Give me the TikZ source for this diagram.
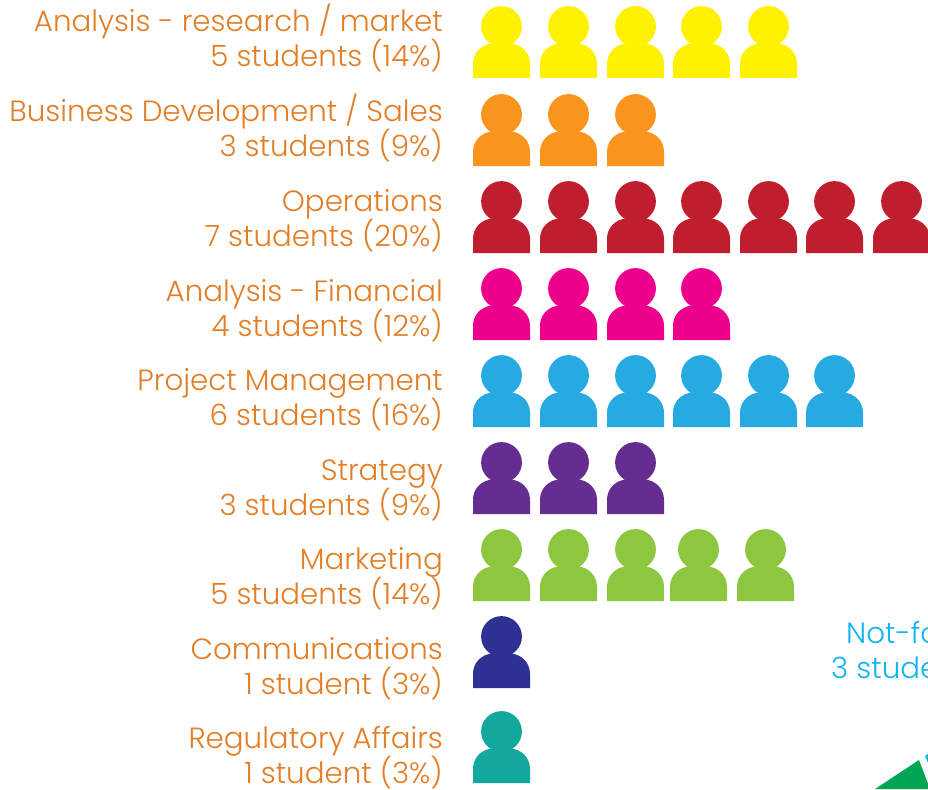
\documentclass[tikz,border=0pt]{standalone}
\usepackage{fontspec}
\setmainfont[UprightFont=* Light]{Poppins}
\definecolor{labelorange}{HTML}{E37E26}
\definecolor{notblue}{HTML}{12B4EE}
\definecolor{cyellow}{HTML}{FFF200}
\definecolor{corange}{HTML}{F9951D}
\definecolor{cred}{HTML}{BE1E2D}
\definecolor{cpink}{HTML}{EC008C}
\definecolor{cblue}{HTML}{27AAE1}
\definecolor{cpurple}{HTML}{662D91}
\definecolor{cgreen}{HTML}{8DC63F}
\definecolor{cnavy}{HTML}{2E3192}
\definecolor{cteal}{HTML}{12A89D}
\definecolor{wedgegreen}{HTML}{00A651}
\tikzset{
  lab/.style={anchor=base east,text=labelorange,font=\fontsize{29.3}{35}\selectfont,inner sep=0pt},
  nf/.style={anchor=base west,text=notblue,font=\fontsize{29.3}{35}\selectfont,inner sep=0pt},
}
% #1 name, #2 first baseline y, #3 first line, #4 second line
\newcommand{\twolabel}[4]{%
  \node[lab] (#1a) at (443,#2) {#3};
  \node[lab] (#1b) at (443,#2+35) {#4};
}
% person: #1 left x, #2 head top y, #3 colour
\newcommand{\persona}[3]{%
  \fill[#3] (#1+28.5,#2+20.5) circle[radius=20.4];
  \fill[#3] (#1,#2+72) -- (#1,#2+57.6)
    .. controls (#1,#2+46.6) and (#1+9,#2+37.6) .. (#1+20,#2+37.6)
    -- (#1+37,#2+37.6)
    .. controls (#1+48,#2+37.6) and (#1+57,#2+46.6) .. (#1+57,#2+57.6)
    -- (#1+57,#2+72) -- cycle;
}
\begin{document}
\begin{tikzpicture}[x=1pt,y=-1pt]
\useasboundingbox (0,0) rectangle (928,789);
\foreach \x in {473,540,607,673,740} {\persona{\x}{6}{cyellow}}
\foreach \x in {473,540,607} {\persona{\x}{94}{corange}}
\foreach \x in {473,540,607,673,740,806,873} {\persona{\x}{181}{cred}}
\foreach \x in {473,540,607,673} {\persona{\x}{268}{cpink}}
\foreach \x in {473,540,607,673,740,806} {\persona{\x}{355}{cblue}}
\foreach \x in {473,540,607} {\persona{\x}{442}{cpurple}}
\foreach \x in {473,540,607,670,737} {\persona{\x}{529}{cgreen}}
\persona{473}{616}{cnavy}
\persona{473}{711}{cteal}
\twolabel{la}{32}{Analysis - research / market}{5 students (14\%)}
\twolabel{lb}{121.5}{Business Development / Sales}{3 students (9\%)}
\twolabel{lc}{211}{Operations}{7 students (20\%)}
\twolabel{ld}{301}{Analysis - Financial}{4 students (12\%)}
\twolabel{le}{390.5}{Project Management}{6 students (16\%)}
\twolabel{lf}{480}{Strategy}{3 students (9\%)}
\twolabel{lg}{569.5}{Marketing}{5 students (14\%)}
\twolabel{lh}{659}{Communications}{1 student (3\%)}
\twolabel{li}{748}{Regulatory Affairs}{1 student (3\%)}
\begin{scope}
\clip (800,600) rectangle (928,789);
\node[nf] (nfa) at (846,643.5) {Not-fo};
\node[nf] (nfb) at (831,678.5) {3 stude};
\fill[wedgegreen] (919,760) -- (875,789) -- (930,789) -- cycle;
\fill[notblue] (925,756) -- (928,754) -- (928,763) -- cycle;
\end{scope}
\end{tikzpicture}
\end{document}
